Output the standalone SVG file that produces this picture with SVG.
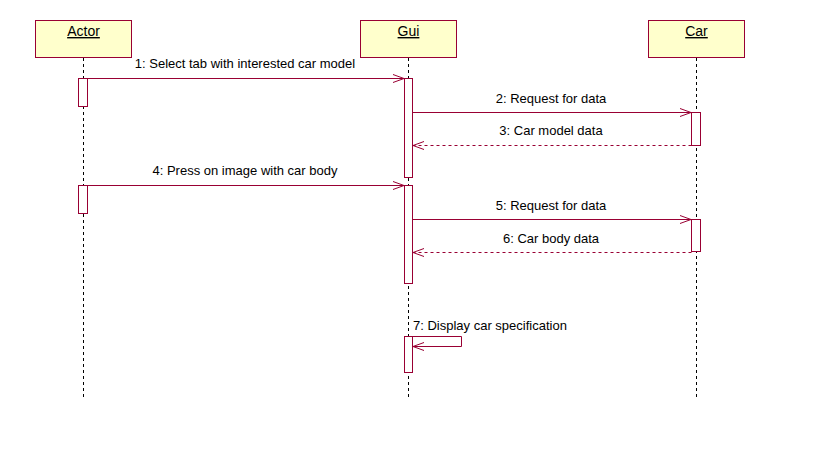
<svg xmlns="http://www.w3.org/2000/svg" width="819" height="460" viewBox="0 0 819 460">
<style>
.box{fill:#FFFFCC;stroke:#990033;stroke-width:1}
.ttl{font-family:"Liberation Sans",Arial,sans-serif;font-size:14px;text-decoration:underline;fill:#000;text-anchor:middle}
.life{stroke:#000;stroke-width:1;stroke-dasharray:3,3}
.act{fill:#fff;stroke:#990033;stroke-width:1}
.msg{stroke:#990033;stroke-width:1;fill:none}
.ret{stroke:#990033;stroke-width:1;fill:none;stroke-dasharray:3,3}
.lbl{font-family:"Liberation Sans",Arial,sans-serif;font-size:13px;fill:#000;text-anchor:middle}
</style>
<defs>
<marker id="open" markerWidth="12" markerHeight="10" refX="11" refY="5" orient="auto" markerUnits="userSpaceOnUse">
<path d="M0,1 L11,5 L0,9" fill="none" stroke="#990033" stroke-width="1"/>
</marker>
</defs>
<rect width="819" height="460" fill="#fff"/>
<g id="actor">
<rect class="box" x="35.5" y="20.5" width="96" height="37"/>
<text class="ttl" x="83.5" y="36">Actor</text>
<line class="life" x1="83.5" y1="58" x2="83.5" y2="400"/>
<rect class="act" x="78.5" y="78.5" width="9" height="28"/>
<rect class="act" x="78.5" y="185.5" width="9" height="28"/>
</g>
<g id="gui">
<rect class="box" x="360.5" y="20.5" width="96" height="37"/>
<text class="ttl" x="408.5" y="36">Gui</text>
<line class="life" x1="408.5" y1="58" x2="408.5" y2="400"/>
<rect class="act" x="404.5" y="78.5" width="8" height="99"/>
<rect class="act" x="404.5" y="185.5" width="8" height="98"/>
<rect class="act" x="404.5" y="336.5" width="8" height="36"/>
</g>
<g id="car">
<rect class="box" x="648.5" y="20.5" width="96" height="37"/>
<text class="ttl" x="696.5" y="36">Car</text>
<line class="life" x1="696.5" y1="58" x2="696.5" y2="400"/>
<rect class="act" x="691.5" y="112.5" width="9" height="33"/>
<rect class="act" x="691.5" y="219.5" width="9" height="32"/>
</g>
<g id="connectors">
<line class="msg" x1="87.5" y1="78.5" x2="404" y2="78.5" marker-end="url(#open)"/>
<text class="lbl" x="245" y="68">1: Select tab with interested car model</text>
<line class="msg" x1="412.5" y1="112.5" x2="691" y2="112.5" marker-end="url(#open)"/>
<text class="lbl" x="551" y="103">2: Request for data</text>
<line class="ret" x1="691.5" y1="145.5" x2="413" y2="145.5" marker-end="url(#open)"/>
<text class="lbl" x="551" y="135">3: Car model data</text>
<line class="msg" x1="87.5" y1="185.5" x2="404" y2="185.5" marker-end="url(#open)"/>
<text class="lbl" x="245" y="175">4: Press on image with car body</text>
<line class="msg" x1="412.5" y1="219.5" x2="691" y2="219.5" marker-end="url(#open)"/>
<text class="lbl" x="551" y="210">5: Request for data</text>
<line class="ret" x1="691.5" y1="252.5" x2="413" y2="252.5" marker-end="url(#open)"/>
<text class="lbl" x="551" y="243">6: Car body data</text>
<path class="msg" d="M412.5,336.5 H461.5 V346.5 H413" marker-end="url(#open)"/>
<text class="lbl" x="413" y="330" style="text-anchor:start">7: Display car specification</text>
</g>
</svg>
